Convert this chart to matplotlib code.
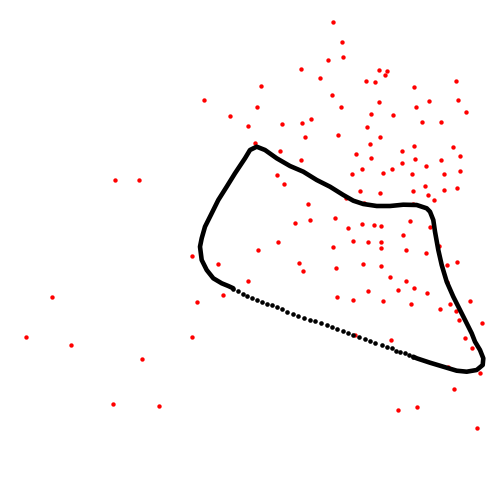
import matplotlib
matplotlib.use("Agg")
import matplotlib.pyplot as plt

# Red scatter points (pixel-space coordinates)
red_x = [333.3, 342.3, 343.3, 328.3, 301.3, 320.3, 379.3, 386.7, 385.3, 366.3,
         375.3, 456.3, 414.3, 261.3, 204.3, 332.3, 379.3, 429.3, 458.3, 257.3,
         341.3, 416.3, 466.3, 230.3, 371.3, 393.3, 248.3, 282.3, 302.3, 311.3,
         422.3, 441.3, 367.3, 305.3, 338.3, 380.3, 370.3, 414.3, 453.3, 255.3,
         280.3, 402.3, 356.3, 371.3, 415.3, 460.3, 301.3, 402.3, 441.3, 426.3,
         362.3, 392.3, 460.3, 277.3, 352.3, 383.3, 412.3, 444.3, 284.3, 425.3,
         360.3, 380.3, 413.3, 444.3, 457.3, 428.3, 434.3, 346.3, 364.3, 413.3,
         308.3, 295.3, 310.3, 335.3, 348.3, 362.3, 374.3, 381.3, 410.3, 430.3,
         403.3, 278.3, 353.3, 368.3, 381.3, 381.3, 333.3, 258.3, 406.3, 439.3,
         426.3, 192.3, 218.3, 299.3, 303.3, 336.3, 363.3, 381.3, 447.3, 457.3,
         390.3, 406.3, 248.3, 447.3, 368.3, 398.3, 414.3, 427.3, 223.3, 337.3,
         353.3, 383.3, 411.3, 197.3, 440.3, 450.3, 470.3, 456.3, 459.3, 482.3,
         115.3, 139.3, 52.3, 26.3, 71.3, 192.3, 142.3, 113.3, 159.3,
         355.3, 391.3, 465.3, 472.3, 448.3, 480.3, 454.3, 398.3, 417.3, 477.3]
red_y = [22.3, 42.3, 57.3, 60.3, 69.3, 78.3, 70.3, 71.3, 75.3, 81.3,
         82.3, 81.3, 87.3, 86.3, 100.3, 95.3, 102.3, 101.3, 100.3, 107.3,
         107.3, 107.3, 112.3, 116.3, 114.3, 115.3, 126.3, 124.3, 123.3, 119.3,
         122.3, 122.3, 127.3, 137.3, 135.3, 137.3, 144.3, 146.3, 147.3, 143.3,
         151.3, 151.3, 154.3, 158.3, 159.3, 156.3, 160.3, 163.3, 160.3, 166.3,
         169.3, 169.3, 171.0, 175.3, 174.3, 173.3, 174.3, 174.3, 184.3, 186.3,
         191.3, 193.3, 191.3, 190.3, 188.3, 195.3, 200.3, 198.3, 203.0, 203.7,
         204.3, 223.3, 220.3, 218.3, 228.3, 224.3, 225.3, 226.3, 221.3, 227.3,
         235.3, 242.3, 241.3, 242.3, 242.3, 248.3, 247.3, 250.3, 250.3, 246.3,
         253.3, 256.3, 264.3, 263.3, 271.3, 268.3, 264.3, 266.3, 265.3, 262.3,
         277.3, 281.3, 281.3, 282.3, 291.3, 290.3, 288.3, 293.3, 295.3, 297.3,
         300.3, 301.3, 304.3, 302.3, 309.3, 304.3, 301.3, 311.3, 320.3, 323.3,
         180.3, 180.3, 297.3, 337.3, 345.3, 337.3, 359.3, 404.3, 406.3,
         335.3, 340.3, 338.3, 348.3, 366.7, 373.3, 389.3, 410.3, 407.3, 428.3]

# Closed black curve: dense (solid-looking) part, traced vertices
dense_x = [413.3, 416.7, 430.0, 443.3, 456.7, 466.7, 476.7, 482.7, 483.3, 480.0,
           475.0, 471.7, 466.7, 460.0, 453.3, 446.7, 441.7, 438.3, 435.0, 433.3,
           430.0, 426.7, 416.7, 403.3, 390.0, 376.7, 363.3, 353.3, 343.3, 330.0,
           316.7, 303.3, 290.0, 276.7, 265.0, 256.7, 250.0, 245.0, 235.0, 226.7,
           218.3, 211.7, 205.0, 201.7, 200.0, 201.7, 206.7, 213.3, 221.7, 228.3,
           233.3]
dense_y = [356.7, 358.3, 362.7, 366.7, 370.7, 371.7, 370.0, 365.0, 358.3, 350.0,
           341.7, 333.3, 323.3, 310.0, 296.7, 281.7, 265.0, 250.0, 231.7, 220.0,
           211.7, 208.3, 205.0, 204.7, 206.0, 206.0, 204.0, 200.7, 195.0, 186.7,
           180.0, 171.7, 166.0, 158.3, 150.0, 146.7, 150.0, 158.3, 173.3, 186.7,
           200.0, 213.3, 226.7, 238.3, 246.7, 260.0, 270.0, 278.3, 283.3, 286.0,
           288.3]

# Sparse dotted part of the curve (individual dots)
dot_x = [233.3, 238.3, 242.7, 246.7, 251.7, 256.7, 261.7,
         266.7, 271.7, 276.7, 281.7, 287.3, 292.7, 298.3, 304.0, 310.0, 315.0,
         320.7, 326.7, 332.0, 337.3, 343.3, 348.3, 353.3, 359.3, 365.0, 370.0,
         375.3, 381.7, 386.7, 391.7, 396.0, 400.0, 405.0, 409.0, 413.3]
dot_y = [289.3, 291.3, 293.5, 295.5, 297.7, 299.8, 301.8,
         303.6, 305.4, 307.3, 309.4, 311.5, 313.6, 315.6, 317.6, 319.6, 321.4,
         323.2, 325.2, 327.4, 329.4, 331.4, 333.2, 335.0, 337.0, 339.0, 340.8,
         342.8, 345.0, 346.7, 348.3, 350.5, 351.7, 353.3, 355.0, 356.7]

fig = plt.figure(figsize=(5, 5), dpi=100)
ax = fig.add_axes([0, 0, 1, 1])
ax.set_xlim(0, 500)
ax.set_ylim(500, 0)
ax.axis("off")

ax.scatter(red_x, red_y, s=10, color="red", linewidths=0, zorder=2)
ax.plot(dense_x, dense_y, color="black", lw=3.3, solid_capstyle="round",
        solid_joinstyle="round", zorder=3)
ax.scatter(dot_x, dot_y, s=11, color="black", linewidths=0, zorder=3)

fig.savefig("out.png", dpi=100)
